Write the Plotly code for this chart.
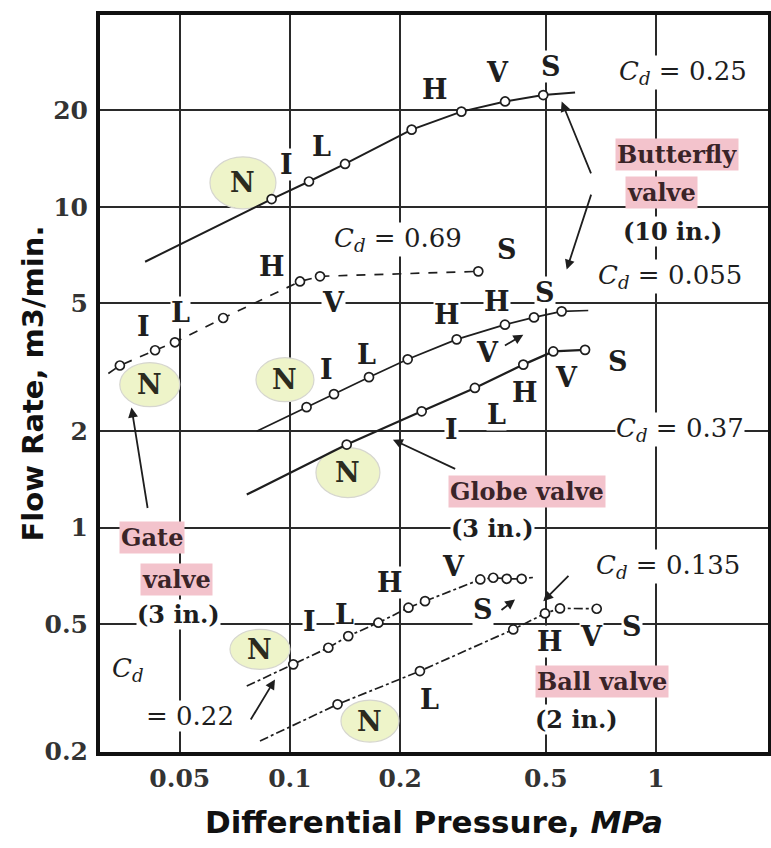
import numpy as np
import plotly.graph_objects as go

# ---------------- data (differential pressure MPa, flow rate m3/min) ----------------
# pt flag: 1 = measured point drawn as open circle, 0 = only the extent of the drawn line
cd025_dp = [0.0402, 0.0891, 0.1127, 0.1414, 0.215, 0.294, 0.387, 0.492, 0.601]
cd025_q = [6.74, 10.57, 11.99, 13.6, 17.4, 19.8, 21.3, 22.3, 22.7]
cd025_pt = [0, 1, 1, 1, 1, 1, 1, 1, 0]

cd069_dp = [0.0319, 0.0343, 0.0428, 0.0485, 0.0657, 0.1065, 0.1208, 0.327]
cd069_q = [3.02, 3.20, 3.57, 3.78, 4.50, 5.85, 6.07, 6.29]
cd069_pt = [0, 1, 1, 1, 1, 1, 1, 1]

cd0055_dp = [0.0811, 0.1110, 0.1319, 0.1644, 0.2097, 0.2854, 0.3867, 0.4642, 0.5524, 0.653]
cd0055_q = [1.995, 2.373, 2.605, 2.943, 3.345, 3.86, 4.29, 4.52, 4.72, 4.75]
cd0055_pt = [0, 1, 1, 1, 1, 1, 1, 1, 1, 0]

cd037_dp = [0.0762, 0.1429, 0.229, 0.320, 0.434, 0.524, 0.640]
cd037_q = [1.267, 1.814, 2.303, 2.724, 3.22, 3.54, 3.58]
cd037_pt = [0, 1, 1, 1, 1, 1, 1]

cd022_dp = [0.0762, 0.1021, 0.1273, 0.1443, 0.1744, 0.2107, 0.2339, 0.3311, 0.3592, 0.391, 0.4295, 0.461]
cd022_q = [0.3203, 0.3743, 0.4218, 0.4585, 0.5048, 0.5623, 0.5894, 0.6887, 0.6972, 0.692, 0.692, 0.6985]
cd022_pt = [0, 1, 1, 1, 1, 1, 1, 1, 1, 1, 1, 0]

cd0135_dp = [0.0828, 0.1349, 0.2265, 0.4074, 0.4975, 0.5466, 0.6887]
cd0135_q = [0.2159, 0.2810, 0.3567, 0.481, 0.5397, 0.5595, 0.558]
cd0135_pt = [0, 1, 1, 1, 1, 1, 1]

x_ticks = [0.05, 0.1, 0.2, 0.5, 1]
x_ticktext = ["0.05", "0.1", "0.2", "0.5", "1"]
y_ticks = [0.2, 0.5, 1, 2, 5, 10, 20]
y_ticktext = ["0.2", "0.5", "1", "2", "5", "10", "20"]

# opening-position letters (text, dp, q)
letter_labels = [
    ("I", 0.0981, 13.52), ("L", 0.1223, 15.38), ("H", 0.2489, 23.14), ("V", 0.37, 26.15), ("S", 0.518, 27.3),
    ("I", 0.0397, 4.23), ("L", 0.0501, 4.68), ("H", 0.0891, 6.52), ("V", 0.1311, 5.02), ("S", 0.391, 7.35),
    ("I", 0.126, 3.10), ("L", 0.1621, 3.46), ("H", 0.268, 4.61), ("H", 0.3672, 5.07), ("S", 0.4975, 5.40),
    ("V", 0.3475, 3.51),
    ("I", 0.2766, 2.02), ("L", 0.3672, 2.249), ("H", 0.4387, 2.634), ("V", 0.5702, 2.93), ("S", 0.787, 3.29),
    ("I", 0.1134, 0.5105), ("L", 0.1413, 0.536), ("H", 0.1876, 0.672), ("V", 0.2789, 0.758), ("S", 0.3366, 0.555),
    ("L", 0.2413, 0.291), ("H", 0.513, 0.4425), ("V", 0.667, 0.4585), ("S", 0.8585, 0.4925),
]
# "N" labels with highlighted ellipse (dp, q, ellipse width px, height px)
n_labels = [
    (0.0744, 11.88, 66, 52), (0.0414, 2.79, 60, 44), (0.0969, 2.89, 58, 44),
    (0.144, 1.483, 64, 50), (0.0828, 0.417, 60, 40), (0.1654, 0.2492, 58, 42),
]
cd_labels = [("0.25", 1.185, 26.15), ("0.69", 0.1973, 7.89), ("0.055", 1.092, 6.05),
             ("0.37", 1.163, 2.02), ("0.135", 1.079, 0.7545)]
pink_labels = [("Butterfly", 1.141, 14.52), ("valve", 1.038, 11.06), ("Gate", 0.042, 0.931),
               ("valve", 0.0491, 0.689), ("Globe valve", 0.444, 1.295), ("Ball valve", 0.712, 0.331)]
plain_labels = [("(10 in.)", 1.11, 8.36), ("(3 in.)", 0.0495, 0.536), ("(3 in.)", 0.3565, 0.99),
                ("(2 in.)", 0.608, 0.2523)]
# pointer arrows: (head dp, head q, tail dp, tail q)
arrows = [
    (0.5525, 21.28, 0.667, 12.58), (0.5702, 6.37, 0.667, 11.03), (0.0369, 2.365, 0.0409, 1.138),
    (0.1911, 1.879, 0.2854, 1.516), (0.434, 3.99, 0.383, 3.67), (0.412, 0.5967, 0.3748, 0.5485),
    (0.0910, 0.336, 0.0777, 0.2492), (0.492, 0.589, 0.582, 0.714),
]

INK = "#1e1e1e"
SERIF = "DejaVu Serif"
W, H = 771, 848
M = dict(l=100, r=3, t=15, b=96)
XR = [-1.519, 0.306]
YR = [-0.70, 1.598]
px_per_dec_x = (W - M["l"] - M["r"]) / (XR[1] - XR[0])
px_per_dec_y = (H - M["t"] - M["b"]) / (YR[1] - YR[0])

fig = go.Figure()
series = [
    (cd025_dp, cd025_q, cd025_pt, "solid", 2.0),
    (cd069_dp, cd069_q, cd069_pt, "dash", 1.7),
    (cd0055_dp, cd0055_q, cd0055_pt, "solid", 1.7),
    (cd037_dp, cd037_q, cd037_pt, "solid", 2.2),
    (cd022_dp, cd022_q, cd022_pt, "dashdot", 1.7),
    (cd0135_dp, cd0135_q, cd0135_pt, "dashdot", 1.7),
]
for dp, q, pt, dash, w in series:
    fig.add_trace(go.Scatter(x=dp, y=q, mode="lines", line=dict(color=INK, width=w, dash=dash),
                             hoverinfo="skip", showlegend=False))
    mx = [a for a, f in zip(dp, pt) if f]
    my = [b for b, f in zip(q, pt) if f]
    fig.add_trace(go.Scatter(x=mx, y=my, mode="markers",
                             marker=dict(symbol="circle", size=9, color="white",
                                         line=dict(color=INK, width=1.7)),
                             showlegend=False))

L = np.log10
annotations = []
for t, x, y in letter_labels:
    annotations.append(dict(text=t, x=L(x), y=L(y), showarrow=False, bgcolor="white", borderpad=0,
                            font=dict(family=SERIF, size=27, color=INK, weight="bold")))
shapes = []
for x, y, w, h in n_labels:
    fx = 10 ** (w / 2 / px_per_dec_x)
    fy = 10 ** (h / 2 / px_per_dec_y)
    shapes.append(dict(type="circle", layer="between", xref="x", yref="y",
                       x0=x / fx, x1=x * fx, y0=y / fy, y1=y * fy,
                       fillcolor="#eef4c9", line=dict(color="#d6d6cf", width=1.2)))
    annotations.append(dict(text="N", x=L(x), y=L(y), showarrow=False,
                            font=dict(family=SERIF, size=27, color="#2b2b1e", weight="bold")))
for v, x, y in cd_labels:
    annotations.append(dict(text="<i>C<sub>d</sub></i> = " + v, x=L(x), y=L(y), showarrow=False,
                            bgcolor="white", borderpad=0,
                            font=dict(family=SERIF, size=26, color=INK)))
annotations.append(dict(text="<i>C<sub>d</sub></i>", x=L(0.0361), y=L(0.361), showarrow=False,
                        bgcolor="white", borderpad=0, font=dict(family=SERIF, size=26, color=INK)))
annotations.append(dict(text="= 0.22", x=L(0.0533), y=L(0.2577), showarrow=False,
                        bgcolor="white", borderpad=0, font=dict(family=SERIF, size=26, color=INK)))
for t, x, y in pink_labels:
    annotations.append(dict(text=t, x=L(x), y=L(y), showarrow=False, bgcolor="#f3c3cc", borderpad=1,
                            font=dict(family=SERIF, size=24, color="#3a2428", weight="bold")))
for t, x, y in plain_labels:
    annotations.append(dict(text=t, x=L(x), y=L(y), showarrow=False, bgcolor="white", borderpad=0,
                            font=dict(family=SERIF, size=24, color=INK, weight="bold")))
for hx, hy, tx, ty in arrows:
    annotations.append(dict(text="", x=L(hx), y=L(hy), ax=L(tx), ay=L(ty), axref="x", ayref="y",
                            showarrow=True, arrowhead=2, arrowsize=1.1, arrowwidth=1.8,
                            arrowcolor=INK, standoff=0, startstandoff=0))
# y-axis title placed as a rotated annotation
annotations.append(dict(text="Flow Rate, m3/min.", xref="paper", yref="paper",
                        x=(32 - M["l"]) / (W - M["l"] - M["r"]), y=0.5, xanchor="center", yanchor="middle",
                        textangle=-90, showarrow=False,
                        font=dict(family="DejaVu Sans", size=29, color="#111111", weight="bold")))

fig.update_layout(
    width=W, height=H, margin=M,
    paper_bgcolor="white", plot_bgcolor="white",
    shapes=shapes, annotations=annotations, showlegend=False,
)
fig.update_xaxes(
    type="log", range=XR, tickvals=x_ticks, ticktext=x_ticktext,
    showgrid=True, gridcolor="#2a2a2a", gridwidth=2, zeroline=False,
    showline=True, linecolor="#111111", linewidth=4, mirror=True, ticks="",
    ticklabelstandoff=1,
    tickfont=dict(family=SERIF, size=25, color="#333333", weight="bold"),
    title=dict(text="Differential Pressure, <i>MPa</i>", standoff=20,
               font=dict(family="DejaVu Sans", size=31, color="#111111", weight="bold")),
    automargin=False,
)
fig.update_yaxes(
    type="log", range=YR, tickvals=y_ticks, ticktext=y_ticktext,
    showgrid=True, gridcolor="#2a2a2a", gridwidth=2, zeroline=False,
    showline=True, linecolor="#111111", linewidth=4, mirror=True, ticks="",
    ticklabelstandoff=3,
    tickfont=dict(family=SERIF, size=25, color="#333333", weight="bold"),
    automargin=False,
)

fig.write_html("out.html")
